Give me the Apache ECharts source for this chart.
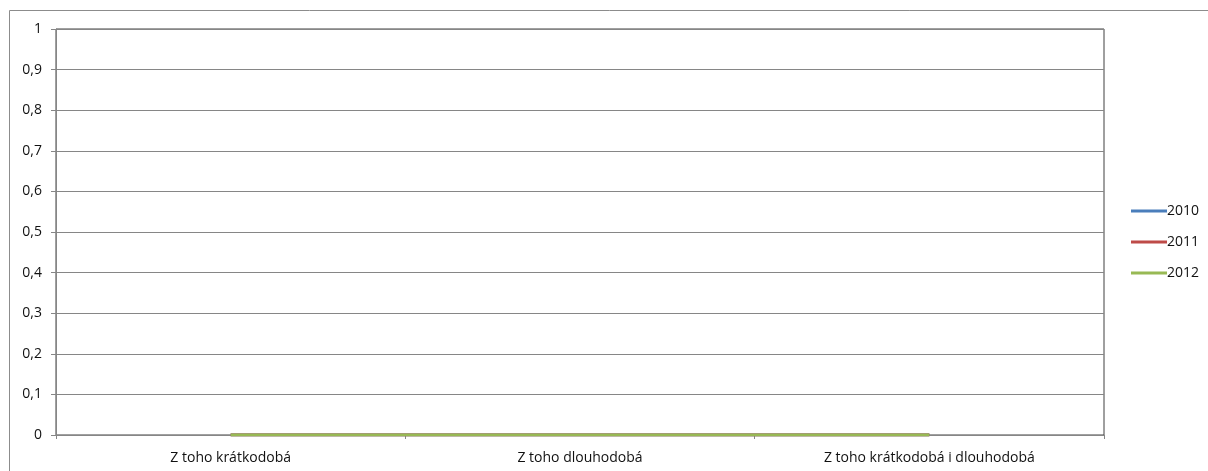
<!DOCTYPE html>
<html>
<head>
<meta charset="utf-8">
<script src="https://cdn.jsdelivr.net/npm/echarts@6/dist/echarts.min.js"></script>
<style>
html,body{margin:0;padding:0;background:#fff;}
#c{width:1208px;height:471px;}
</style>
</head>
<body>
<div id="c"></div>
<script>
var categories = ['Z toho krátkodobá', 'Z toho dlouhodobá', 'Z toho krátkodobá i dlouhodobá'];
var seriesNames = ['2010', '2011', '2012'];
var values2010 = [0, 0, 0];
var values2011 = [0, 0, 0];
var values2012 = [0, 0, 0];
var colors = ['#4A7EBB', '#BE4B48', '#98B954'];

var chart = echarts.init(document.getElementById('c'));
var font = 'Open Sans, Noto Sans, sans-serif';
var allValues = [values2010, values2011, values2012];
chart.setOption({
  animation: false,
  textStyle: {fontFamily: font},
  graphic: [{
    type: 'rect',
    shape: {x: 9.5, y: 10.5, width: 1220, height: 480},
    style: {fill: 'none', stroke: '#8c8c8c', lineWidth: 1},
    silent: true
  }],
  legend: {
    orient: 'vertical',
    left: 1126,
    top: 198,
    itemGap: 15,
    itemWidth: 36,
    itemHeight: 3,
    icon: 'rect',
    textStyle: {fontSize: 14, lineHeight: 16, color: '#111', fontFamily: font, padding: [0, 0, 0, -5]},
    data: seriesNames
  },
  grid: {
    left: 56, top: 29, right: 104, bottom: 36,
    show: true, borderColor: '#404040', borderWidth: 1,
    containLabel: false
  },
  xAxis: {
    type: 'category',
    data: categories,
    boundaryGap: true,
    axisLine: {lineStyle: {color: '#868686'}},
    axisTick: {show: true, length: 4, lineStyle: {color: '#868686'}},
    axisLabel: {color: '#111', fontSize: 14, margin: 16, fontFamily: font}
  },
  yAxis: {
    type: 'value',
    min: 0, max: 1, interval: 0.1,
    axisLine: {show: true, lineStyle: {color: '#868686'}},
    axisTick: {show: true, length: 5, lineStyle: {color: '#868686'}},
    splitLine: {lineStyle: {color: '#868686'}},
    axisLabel: {
      color: '#111', fontSize: 14, margin: 14, fontFamily: font,
      formatter: function (v) { return String(Math.round(v * 10) / 10).replace('.', ','); }
    }
  },
  series: seriesNames.map(function (n, i) {
    return {
      name: n, type: 'line', data: allValues[i],
      symbol: 'none', color: colors[i],
      lineStyle: {width: 3, color: colors[i]}
    };
  })
});
</script>
</body>
</html>
